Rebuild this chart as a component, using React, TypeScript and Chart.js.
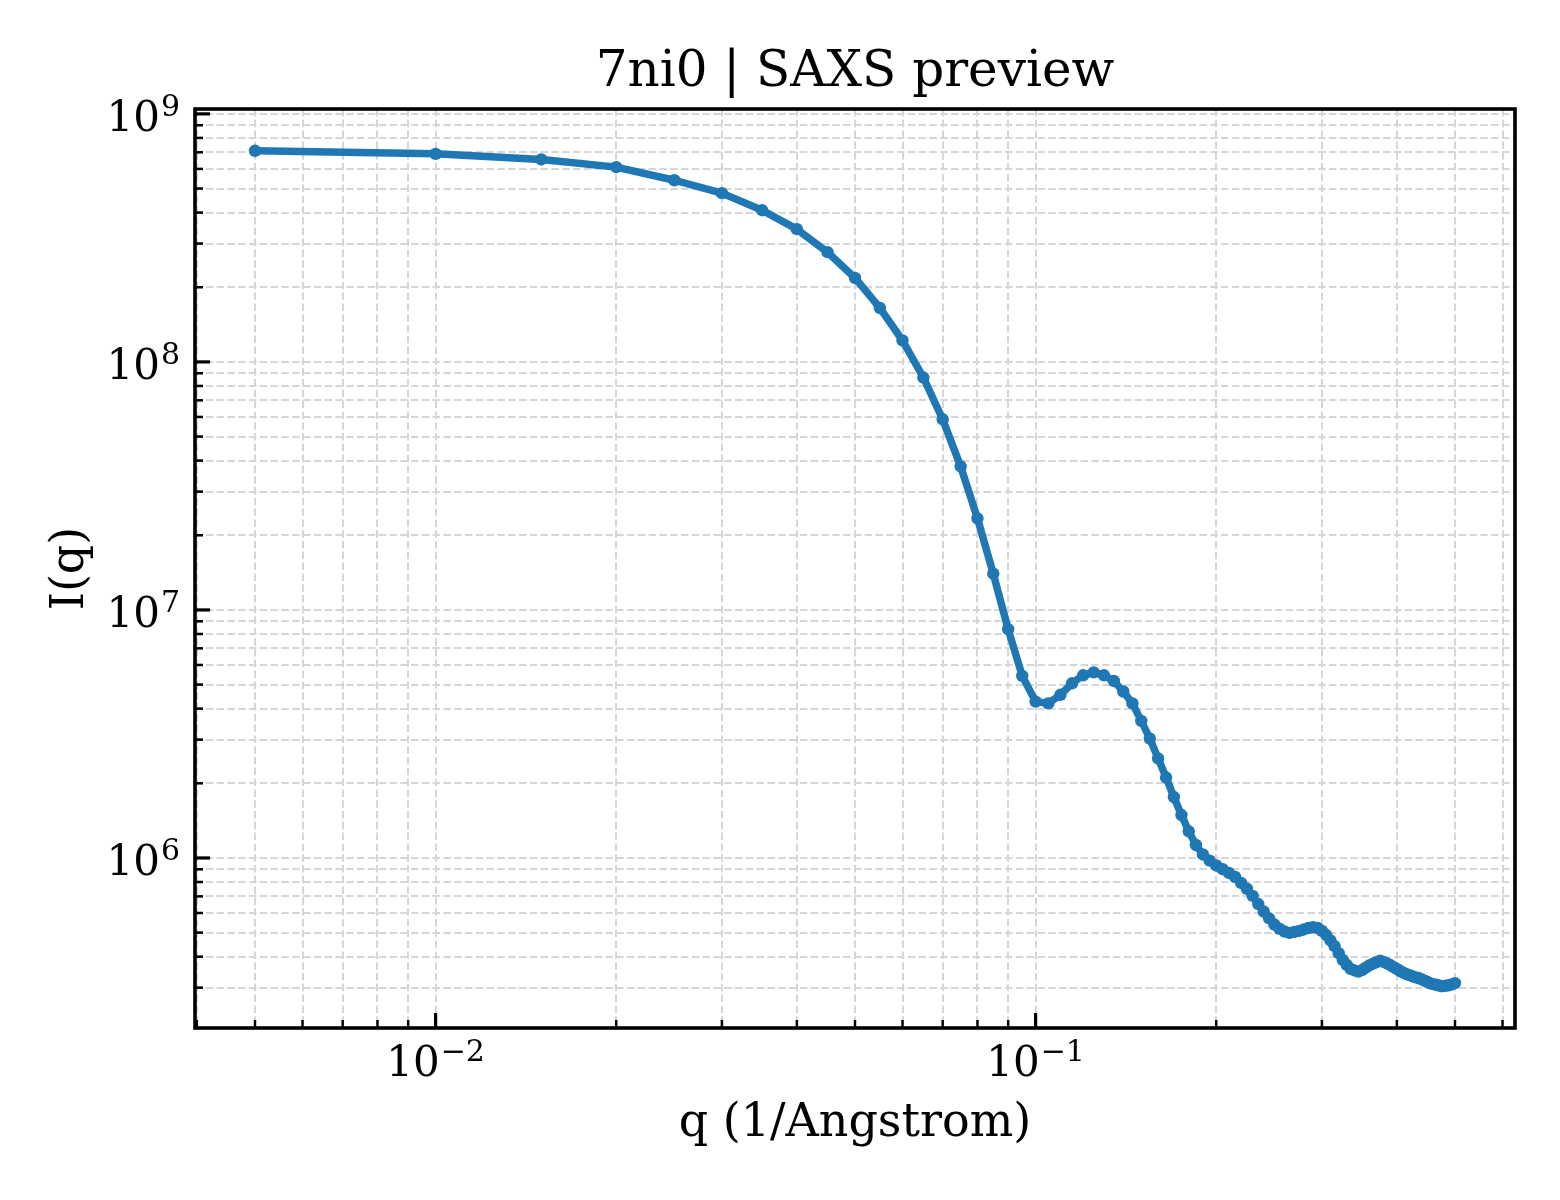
import { useEffect, useRef } from "react";
import { Chart, registerables } from "chart.js";
Chart.register(...registerables);

const titleText = "7ni0 | SAXS preview";
const xLabel = "q (1/Angstrom)";
const yLabel = "I(q)";

// scattering vector, 1/Angstrom
const qValues = [
  0.005, 0.01, 0.015, 0.02, 0.025, 0.03, 0.035, 0.04, 0.045, 0.05,
  0.055, 0.06, 0.065, 0.07, 0.075, 0.08, 0.085, 0.09, 0.095, 0.1,
  0.105, 0.11, 0.115, 0.12, 0.125, 0.13, 0.135, 0.14, 0.145, 0.15,
  0.155, 0.16, 0.165, 0.17, 0.175, 0.18, 0.185, 0.19, 0.195, 0.2,
  0.205, 0.21, 0.215, 0.22, 0.225, 0.23, 0.235, 0.24, 0.245, 0.25,
  0.255, 0.26, 0.265, 0.27, 0.275, 0.28, 0.285, 0.29, 0.295, 0.3,
  0.305, 0.31, 0.315, 0.32, 0.325, 0.33, 0.335, 0.34, 0.345, 0.35,
  0.355, 0.36, 0.365, 0.37, 0.375, 0.38, 0.385, 0.39, 0.395, 0.4,
  0.405, 0.41, 0.415, 0.42, 0.425, 0.43, 0.435, 0.44, 0.445, 0.45,
  0.455, 0.46, 0.465, 0.47, 0.475, 0.48, 0.485, 0.49, 0.495, 0.5,
];

// I(q)
const intensity = [
  7.1e8, 6.9e8, 6.55e8, 6.1e8, 5.4e8, 4.79e8, 4.09e8, 3.43e8, 2.77e8, 2.18e8,
  1.65e8, 1.22e8, 8.65e7, 5.87e7, 3.79e7, 2.34e7, 1.4e7, 8.36e6, 5.42e6, 4.27e6,
  4.2e6, 4.55e6, 5.06e6, 5.45e6, 5.6e6, 5.45e6, 5.17e6, 4.69e6, 4.2e6, 3.57e6,
  3.03e6, 2.52e6, 2.11e6, 1.76e6, 1.49e6, 1.28e6, 1.128e6, 1.033e6, 9.76e5, 9.33e5,
  9.01e5, 8.7e5, 8.38e5, 7.93e5, 7.51e5, 7.03e5, 6.52e5, 6.08e5, 5.71e5, 5.39e5,
  5.18e5, 5.05e5, 4.99e5, 5.03e5, 5.08e5, 5.15e5, 5.22e5, 5.26e5, 5.22e5, 5.08e5,
  4.89e5, 4.65e5, 4.41e5, 4.13e5, 3.88e5, 3.71e5, 3.57e5, 3.52e5, 3.48e5, 3.53e5,
  3.61e5, 3.69e5, 3.75e5, 3.8e5, 3.85e5, 3.81e5, 3.76e5, 3.7e5, 3.63e5, 3.57e5,
  3.5e5, 3.45e5, 3.4e5, 3.37e5, 3.33e5, 3.3e5, 3.28e5, 3.24e5, 3.2e5, 3.16e5,
  3.12e5, 3.1e5, 3.08e5, 3.06e5, 3.04e5, 3.05e5, 3.06e5, 3.07e5, 3.1e5, 3.13e5,
];

const BLUE = "#1f77b4";
const GRID = "#d6d6d6";
const SERIF = '"DejaVu Serif", serif';

// matplotlib-style 5% margins in log space
function logLimits(vals: number[]) {
  const lo = Math.log10(Math.min(...vals));
  const hi = Math.log10(Math.max(...vals));
  const m = (hi - lo) * 0.05;
  return [10 ** (lo - m), 10 ** (hi + m)];
}

function logTicks(min: number, max: number) {
  const out: { value: number; major: boolean }[] = [];
  for (let e = Math.floor(Math.log10(min)); e <= Math.ceil(Math.log10(max)); e++) {
    for (let m = 1; m < 10; m++) {
      const v = m * 10 ** e;
      if (v >= min && v <= max) out.push({ value: v, major: m === 1 });
    }
  }
  return out;
}

const [xMin, xMax] = logLimits(qValues);
const [yMin, yMax] = logLimits(intensity);

function drawPower(ctx: CanvasRenderingContext2D, exp: number, x: number, baseline: number, align: "center" | "right") {
  const sup = exp < 0 ? "\u2212" + Math.abs(exp) : String(exp);
  ctx.font = `42px ${SERIF}`;
  const wBase = ctx.measureText("10").width;
  ctx.font = `30px ${SERIF}`;
  const wSup = ctx.measureText(sup).width;
  const w = wBase + wSup + 1;
  const x0 = align === "center" ? x - w / 2 : x - w;
  ctx.textAlign = "left";
  ctx.textBaseline = "alphabetic";
  ctx.font = `42px ${SERIF}`;
  ctx.fillText("10", x0, baseline);
  ctx.font = `30px ${SERIF}`;
  ctx.fillText(sup, x0 + wBase + 1, baseline - 15);
}

const mplAxes = {
  id: "mplAxes",
  afterDraw(chart: any) {
    const { ctx, chartArea: a, scales } = chart;
    const xs = scales.x;
    const ys = scales.y;
    ctx.save();
    ctx.strokeStyle = "#000";
    ctx.fillStyle = "#000";

    // inward ticks, bottom and left only
    for (const t of xs.ticks) {
      const px = xs.getPixelForValue(t.value);
      ctx.lineWidth = t.major ? 3.2 : 2.5;
      const len = t.major ? 15 : 8;
      ctx.beginPath();
      ctx.moveTo(px, a.bottom);
      ctx.lineTo(px, a.bottom - len);
      ctx.stroke();
    }
    for (const t of ys.ticks) {
      const py = ys.getPixelForValue(t.value);
      ctx.lineWidth = t.major ? 3.2 : 2.5;
      const len = t.major ? 15 : 8;
      ctx.beginPath();
      ctx.moveTo(a.left, py);
      ctx.lineTo(a.left + len, py);
      ctx.stroke();
    }

    ctx.lineWidth = 3.6;
    ctx.strokeRect(a.left, a.top, a.right - a.left, a.bottom - a.top);

    // decade labels
    for (const t of xs.ticks) {
      if (!t.major) continue;
      const px = xs.getPixelForValue(t.value);
      drawPower(ctx, Math.round(Math.log10(t.value)), px, a.bottom + 48, "center");
    }
    for (const t of ys.ticks) {
      if (!t.major) continue;
      const py = ys.getPixelForValue(t.value);
      drawPower(ctx, Math.round(Math.log10(t.value)), a.left - 15, py + 17, "right");
    }

    const cx = (a.left + a.right) / 2;
    ctx.textAlign = "center";
    ctx.textBaseline = "alphabetic";
    ctx.font = `50px ${SERIF}`;
    ctx.fillText(titleText, cx, a.top - 23);
    ctx.font = `46px ${SERIF}`;
    ctx.fillText(xLabel, cx, a.bottom + 108);

    ctx.translate(a.left - 112, (a.top + a.bottom) / 2);
    ctx.rotate(-Math.PI / 2);
    ctx.fillText(yLabel, 0, 0);
    ctx.restore();
  },
};

function SaxsChart() {
  const canvasRef = useRef<HTMLCanvasElement>(null);

  useEffect(() => {
    if (!canvasRef.current) return;
    const ctx = canvasRef.current.getContext("2d");
    if (!ctx) return;

    const axisOpts = (min: number, max: number) => ({
      type: "logarithmic" as const,
      min,
      max,
      bounds: "data" as const,
      afterBuildTicks: (s: any) => {
        s.ticks = logTicks(min, max);
      },
      ticks: { display: false },
      grid: { color: GRID, lineWidth: 2, drawTicks: false },
      border: { display: false, dash: [7.5, 3.3] },
    });

    const chart = new Chart(ctx, {
      type: "scatter",
      data: {
        datasets: [
          {
            data: qValues.map((q, i) => ({ x: q, y: intensity[i] })),
            showLine: true,
            borderColor: BLUE,
            backgroundColor: BLUE,
            borderWidth: 7.5,
            borderJoinStyle: "round",
            pointRadius: 6.2,
            pointBorderWidth: 0,
            pointHoverRadius: 6.2,
          },
        ],
      },
      options: {
        animation: false,
        responsive: true,
        maintainAspectRatio: false,
        events: [],
        layout: { padding: { left: 195, top: 109, right: 45, bottom: 172 } },
        plugins: { legend: { display: false }, tooltip: { enabled: false } },
        scales: { x: axisOpts(xMin, xMax), y: axisOpts(yMin, yMax) },
      },
      plugins: [mplAxes],
    });

    return () => chart.destroy();
  }, []);

  return <canvas ref={canvasRef} />;
}

export default function App() {
  return (
    <div style={{ position: "absolute", left: 0, top: 0, width: 1560, height: 1200, background: "#fff" }}>
      <SaxsChart />
    </div>
  );
}
